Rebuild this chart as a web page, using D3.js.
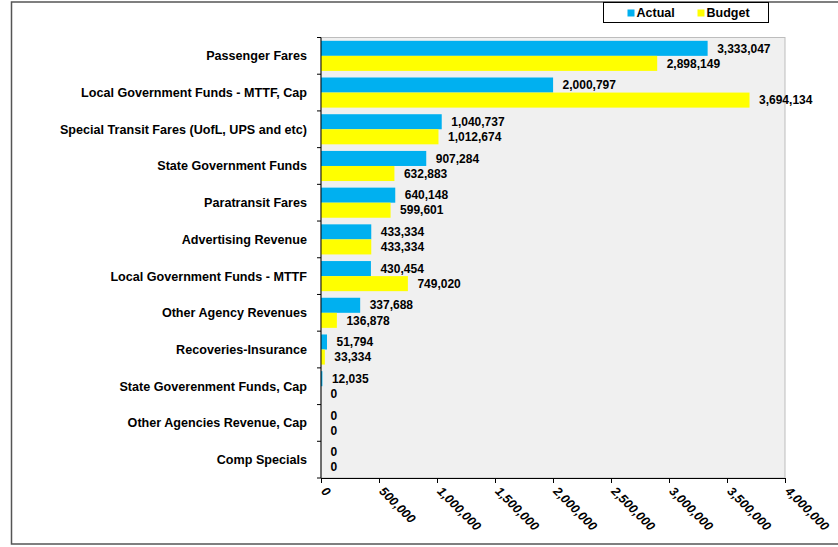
<!DOCTYPE html>
<html>
<head>
<meta charset="utf-8">
<script src="https://cdn.jsdelivr.net/npm/d3@7"></script>
<style>
  body { margin: 0; background: #fff; }
  svg { font-family: "Liberation Sans", Arial, sans-serif; }
</style>
</head>
<body>
<svg id="chart"></svg>
<script>
const categories = [
  "Passenger Fares",
  "Local Government Funds - MTTF, Cap",
  "Special Transit Fares (UofL, UPS and etc)",
  "State Government Funds",
  "Paratransit Fares",
  "Advertising Revenue",
  "Local Government Funds - MTTF",
  "Other Agency Revenues",
  "Recoveries-Insurance",
  "State Goverenment Funds, Cap",
  "Other Agencies Revenue, Cap",
  "Comp Specials"
];
const actual = [3333047, 2000797, 1040737, 907284, 640148, 433334, 430454, 337688, 51794, 12035, 0, 0];
const budget = [2898149, 3694134, 1012674, 632883, 599601, 433334, 749020, 136878, 33334, 0, 0, 0];
const xTicks = [0, 500000, 1000000, 1500000, 2000000, 2500000, 3000000, 3500000, 4000000];
const seriesNames = ["Actual", "Budget"];
const colors = ["#00b0f0", "#ffff00"];

const width = 838, height = 547;
const margin = { top: 37.5, right: 53, bottom: 69, left: 321 };
const innerW = width - margin.left - margin.right;
const innerH = height - margin.top - margin.bottom;

const svg = d3.select("#chart").attr("width", width).attr("height", height);

// outer frame
svg.append("rect")
  .attr("x", 11.5).attr("y", 2)
  .attr("width", 840).attr("height", 542)
  .attr("fill", "none").attr("stroke", "#555").attr("stroke-width", 1.5);

const g = svg.append("g").attr("transform", `translate(${margin.left},${margin.top})`);

const x = d3.scaleLinear().domain([0, 4000000]).range([0, innerW]);
const y = d3.scaleBand().domain(categories).range([0, innerH]).paddingInner(0.18).paddingOuter(0.09);
const ySub = d3.scaleBand().domain(seriesNames).range([0, y.bandwidth()]);

// plot background
g.append("rect")
  .attr("width", innerW).attr("height", innerH)
  .attr("fill", "#f0f0f0").attr("stroke", "#bdbdbd");

const rows = categories.map((c, i) => ({ cat: c, vals: [actual[i], budget[i]] }));

const grp = g.selectAll(".grp").data(rows).enter().append("g")
  .attr("transform", d => `translate(0,${y(d.cat)})`);

grp.selectAll("rect").data(d => d.vals.map((v, k) => ({ v, k }))).enter().append("rect")
  .attr("x", 0)
  .attr("y", d => ySub(seriesNames[d.k]))
  .attr("width", d => x(d.v))
  .attr("height", ySub.bandwidth())
  .attr("fill", d => colors[d.k]);

grp.selectAll("text").data(d => d.vals.map((v, k) => ({ v, k }))).enter().append("text")
  .attr("x", d => x(d.v) + 9.5)
  .attr("y", d => ySub(seriesNames[d.k]) + ySub.bandwidth() / 2)
  .attr("dy", "0.35em")
  .attr("font-size", 12).attr("font-weight", "bold")
  .text(d => d3.format(",")(d.v));

// category labels
g.selectAll(".cat").data(categories).enter().append("text")
  .attr("x", -14)
  .attr("y", d => y(d) + y.bandwidth() / 2)
  .attr("dy", "0.35em")
  .attr("text-anchor", "end")
  .attr("font-size", 12.6).attr("font-weight", "bold")
  .text(d => d);

// left axis line with ticks at band boundaries
const step = innerH / categories.length;
g.append("line").attr("x1", 0).attr("x2", 0).attr("y1", 0).attr("y2", innerH)
  .attr("stroke", "#000");
g.selectAll(".ytick").data(d3.range(categories.length + 1)).enter().append("line")
  .attr("x1", -4).attr("x2", 0)
  .attr("y1", i => i * step).attr("y2", i => i * step)
  .attr("stroke", "#000");

// bottom axis
const xAxis = g.append("g").attr("transform", `translate(0,${innerH})`)
  .call(d3.axisBottom(x).tickValues(xTicks).tickSize(5).tickSizeOuter(0).tickFormat(d3.format(",")));
xAxis.select(".domain").attr("stroke", "#000");
xAxis.selectAll("line").attr("stroke", "#000");
xAxis.selectAll("text")
  .attr("font-size", 12.5).attr("font-weight", "bold").attr("font-style", "italic")
  .attr("fill", "#000")
  .attr("text-anchor", "start")
  .attr("dy", null).attr("y", 0).attr("x", 0)
  .attr("transform", "translate(-1,14) rotate(45)");

// legend
const lg = svg.append("g").attr("transform", "translate(603.5,2.5)");
lg.append("rect").attr("width", 165).attr("height", 20)
  .attr("fill", "#fff").attr("stroke", "#000");
const li = lg.selectAll(".li").data(seriesNames).enter().append("g")
  .attr("transform", (d, i) => `translate(${24 + i * 70},0)`);
li.append("rect").attr("y", 7).attr("width", 7).attr("height", 7)
  .attr("fill", (d, i) => colors[i]);
li.append("text").attr("x", 9).attr("y", 10.5).attr("dy", "0.35em")
  .attr("font-size", 12.5).attr("font-weight", "bold")
  .text(d => d);
</script>
</body>
</html>
